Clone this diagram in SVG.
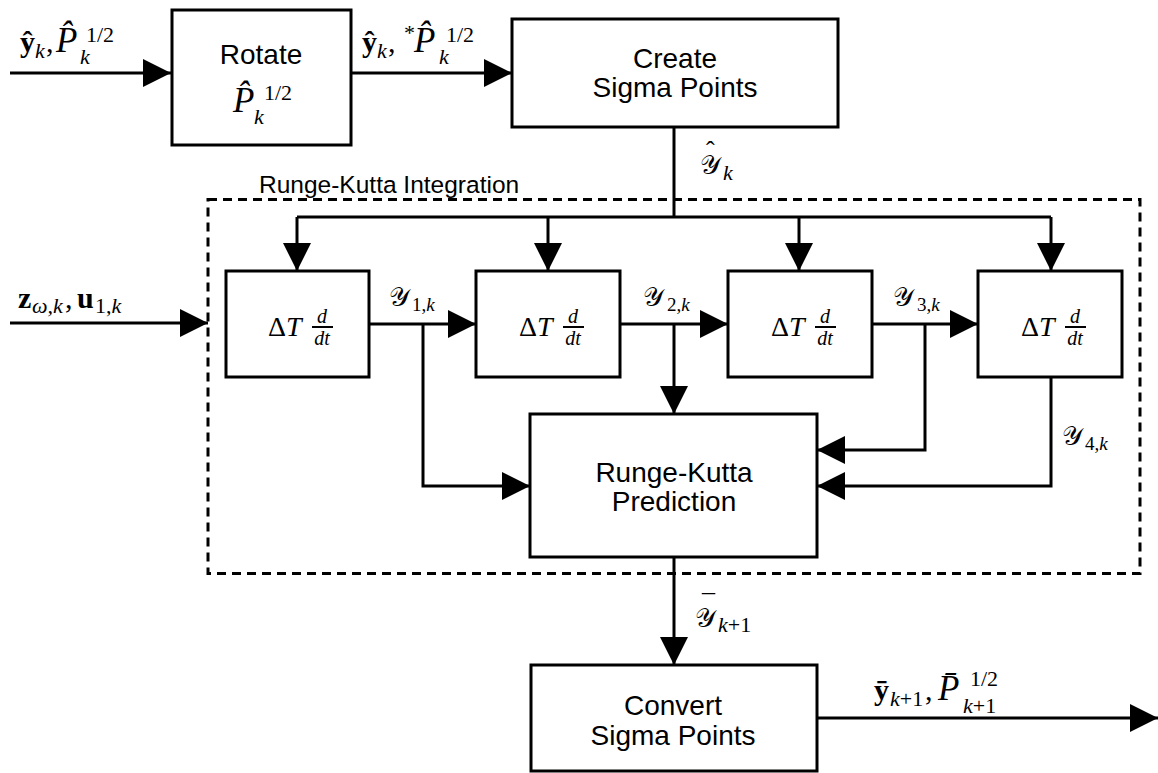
<svg xmlns="http://www.w3.org/2000/svg" width="1158" height="773" viewBox="0 0 1158 773">
<defs>
<marker id="ah" markerUnits="userSpaceOnUse" markerWidth="28" markerHeight="28" refX="28" refY="14" orient="auto">
<path d="M0,0 L28,14 L0,28 Z" fill="#000"/>
</marker>
<style>
.box{fill:#fff;stroke:#000;stroke-width:3}
.wire{fill:none;stroke:#000;stroke-width:3}
.arr{marker-end:url(#ah)}
.dash{fill:none;stroke:#000;stroke-width:3;stroke-dasharray:9 6}
.lbl{font-family:"Liberation Sans",Arial,sans-serif;font-size:28px;text-anchor:middle;fill:#000}
.cap{font-family:"Liberation Sans",Arial,sans-serif;font-size:24.5px;fill:#000}
.m{font-family:"Liberation Serif","DejaVu Serif",serif;font-size:26px;font-style:italic;fill:#000}
.big{font-size:30px}
.pp{font-size:35px}
.b{font-weight:bold;font-style:normal}
.r{font-style:normal}
.s{font-size:19px;font-style:normal}
.si{font-size:19px}
.s2{font-size:22px;font-style:normal}
.si2{font-size:22px}
.cal{font-family:"DejaVu Sans","Noto Sans",serif;font-style:normal;font-size:26px}
.acc{font-style:normal;font-size:26px}
.fr{font-size:20px;text-anchor:middle}
.bar{stroke:#000;stroke-width:2}
</style>
</defs>

<g id="connectors">
<line class="wire arr" x1="10" y1="73" x2="171" y2="73"/>
<line class="wire arr" x1="351" y1="73" x2="512" y2="73"/>
<polyline class="wire" points="674,127 674,217"/>
<line class="wire" x1="297" y1="217" x2="1051" y2="217"/>
<line class="wire arr" x1="297" y1="217" x2="297" y2="271"/>
<line class="wire arr" x1="548" y1="217" x2="548" y2="271"/>
<line class="wire arr" x1="799" y1="217" x2="799" y2="271"/>
<line class="wire arr" x1="1051" y1="217" x2="1051" y2="271"/>
<line class="wire arr" x1="10" y1="323" x2="208" y2="323"/>
<line class="wire arr" x1="369" y1="324" x2="476" y2="324"/>
<line class="wire arr" x1="620" y1="324" x2="728" y2="324"/>
<line class="wire arr" x1="872" y1="324" x2="978" y2="324"/>
<polyline class="wire arr" points="423,324 423,486 530,486"/>
<line class="wire arr" x1="674" y1="324" x2="674" y2="414"/>
<polyline class="wire arr" points="925,324 925,450 817,450"/>
<polyline class="wire arr" points="1051,377 1051,486 817,486"/>
<line class="wire arr" x1="674" y1="557" x2="674" y2="665"/>
<line class="wire arr" x1="817" y1="718" x2="1158" y2="718"/>
</g>

<g id="rk-integration">
<rect class="dash" x="208" y="199.5" width="932" height="374"/>
<text class="cap" x="259" y="193">Runge-Kutta Integration</text>
</g>

<g id="rotate">
<rect class="box" x="172" y="10" width="179" height="135"/>
<text class="lbl" x="261" y="64">Rotate</text>
<text class="m pp"><tspan x="233" y="112">P̂</tspan><tspan class="s2" x="264" y="100">1/2</tspan><tspan class="si2" x="254" y="124">k</tspan></text>
</g>

<g id="create-sigma">
<rect class="box" x="512" y="19" width="326" height="108"/>
<text class="lbl" x="675" y="68">Create</text>
<text class="lbl" x="675" y="97">Sigma Points</text>
</g>

<g id="dt1">
<rect class="box" x="226" y="271" width="143" height="106"/>
<text class="m"><tspan class="r" x="268" y="336" font-size="28">Δ</tspan><tspan font-size="28">T</tspan><tspan class="fr" x="322" y="323">d</tspan><tspan class="fr" x="322" y="345">dt</tspan></text>
<line class="bar" x1="312" y1="327" x2="333" y2="327"/>
</g>
<g id="dt2">
<rect class="box" x="476" y="271" width="144" height="106"/>
<text class="m"><tspan class="r" x="519" y="336" font-size="28">Δ</tspan><tspan font-size="28">T</tspan><tspan class="fr" x="573" y="323">d</tspan><tspan class="fr" x="573" y="345">dt</tspan></text>
<line class="bar" x1="563" y1="327" x2="584" y2="327"/>
</g>
<g id="dt3">
<rect class="box" x="728" y="271" width="144" height="106"/>
<text class="m"><tspan class="r" x="771" y="336" font-size="28">Δ</tspan><tspan font-size="28">T</tspan><tspan class="fr" x="825" y="323">d</tspan><tspan class="fr" x="825" y="345">dt</tspan></text>
<line class="bar" x1="815" y1="327" x2="836" y2="327"/>
</g>
<g id="dt4">
<rect class="box" x="978" y="271" width="144" height="106"/>
<text class="m"><tspan class="r" x="1021" y="336" font-size="28">Δ</tspan><tspan font-size="28">T</tspan><tspan class="fr" x="1075" y="323">d</tspan><tspan class="fr" x="1075" y="345">dt</tspan></text>
<line class="bar" x1="1065" y1="327" x2="1086" y2="327"/>
</g>

<g id="rk-prediction">
<rect class="box" x="530" y="414" width="287" height="143"/>
<text class="lbl" x="674" y="482">Runge-Kutta</text>
<text class="lbl" x="674" y="511">Prediction</text>
</g>

<g id="convert-sigma">
<rect class="box" x="531" y="665" width="286" height="106"/>
<text class="lbl" x="673" y="715">Convert</text>
<text class="lbl" x="673" y="745">Sigma Points</text>
</g>

<g id="labels">
<text class="m big"><tspan class="b" x="20" y="52">ŷ</tspan><tspan class="si2" x="35" y="58">k</tspan><tspan class="r" x="46" y="52">,</tspan><tspan class="pp" x="56" y="52">P̂</tspan><tspan class="s2" x="86" y="42">1/2</tspan><tspan class="si2" x="80" y="64">k</tspan></text>
<text class="m big"><tspan class="b" x="362" y="52">ŷ</tspan><tspan class="si2" x="377" y="58">k</tspan><tspan class="r" x="388" y="52">,</tspan><tspan class="s2" x="404" y="40">*</tspan><tspan class="pp" x="414" y="52">P̂</tspan><tspan class="s2" x="446" y="42">1/2</tspan><tspan class="si2" x="439" y="64">k</tspan></text>
<text class="m"><tspan class="acc" x="706" y="159">ˆ</tspan><tspan class="cal" x="700" y="174">𝒴</tspan><tspan class="si2" x="723" y="180">k</tspan></text>
<text class="m big"><tspan class="b" x="18" y="308">z</tspan><tspan class="si2" x="32" y="313">ω,k</tspan><tspan class="r" x="65" y="308">,</tspan><tspan class="b" x="77" y="308">u</tspan><tspan class="s2" x="95" y="313">1,</tspan><tspan class="si2">k</tspan></text>
<text class="m"><tspan class="cal" x="389" y="306">𝒴</tspan><tspan class="s" x="412" y="311">1,</tspan><tspan class="si">k</tspan></text>
<text class="m"><tspan class="cal" x="643" y="306">𝒴</tspan><tspan class="s" x="667" y="311">2,</tspan><tspan class="si">k</tspan></text>
<text class="m"><tspan class="cal" x="893" y="306">𝒴</tspan><tspan class="s" x="917" y="311">3,</tspan><tspan class="si">k</tspan></text>
<text class="m"><tspan class="cal" x="1062" y="445">𝒴</tspan><tspan class="s" x="1085" y="450">4,</tspan><tspan class="si">k</tspan></text>
<text class="m"><tspan class="acc" x="702" y="612">¯</tspan><tspan class="cal" x="695" y="627">𝒴</tspan><tspan class="si2" x="718" y="632">k</tspan><tspan class="s2">+1</tspan></text>
<text class="m big"><tspan class="b" x="874" y="700">ȳ</tspan><tspan class="si2" x="890" y="706">k</tspan><tspan class="s2">+1</tspan><tspan class="r" x="925" y="700">,</tspan><tspan class="pp" x="938" y="700">P̄</tspan><tspan class="s2" x="970" y="686">1/2</tspan><tspan class="si2" x="963" y="713">k</tspan><tspan class="s2">+1</tspan></text>
</g>
</svg>
